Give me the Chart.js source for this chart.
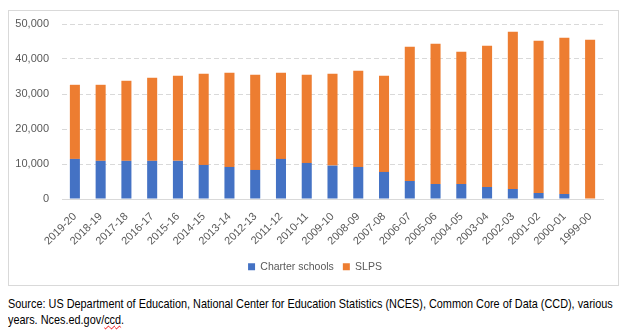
<!DOCTYPE html>
<html>
<head>
<meta charset="utf-8">
<script src="https://cdn.jsdelivr.net/npm/chart.js@4/dist/chart.umd.min.js"></script>
<style>
  html, body { margin: 0; padding: 0; background: #fff; }
  #page { position: relative; width: 640px; height: 335px; overflow: hidden; }
  #frame { position: absolute; left: 8px; top: 10px; width: 611px; height: 276px;
           border: 1px solid #d9d9d9; box-sizing: border-box; }
  #wrap { position: absolute; left: 9px; top: 11px; width: 609px; height: 274px; }
  #source { position: absolute; left: 8px; top: 296px; white-space: nowrap;
            font-family: "Liberation Sans", sans-serif;
            font-size: 13.5px; line-height: 16px; color: #000;
            transform: scaleX(0.806); transform-origin: 0 0; }
  .sp { text-decoration: underline wavy #e00; text-decoration-thickness: 1px; }
</style>
</head>
<body>
<div id="page">
  <div id="frame"></div>
  <div id="wrap"><canvas id="chart"></canvas></div>
  <div id="source">Source: US Department of Education, National Center for Education Statistics (NCES), Common Core of Data (CCD), various<br>years. Nces.ed.gov/<span class="sp">ccd</span>.</div>
</div>
<script>
const years = ["2019-20", "2018-19", "2017-18", "2016-17", "2015-16", "2014-15", "2013-14",
  "2012-13", "2011-12", "2010-11", "2009-10", "2008-09", "2007-08", "2006-07", "2005-06",
  "2004-05", "2003-04", "2002-03", "2001-02", "2000-01", "1999-00"];
const charterSchools = [11450, 10900, 10900, 10900, 10900, 9730, 9160, 8300, 11450, 10300,
  9540, 9160, 7730, 5150, 4290, 4290, 3435, 2860, 1720, 1430, 0];
const slps = [21180, 21730, 22880, 23740, 24310, 26050, 26910, 27200, 24620, 25200,
  26240, 27480, 27480, 38360, 40080, 37790, 40365, 44940, 43510, 44660, 45520];

const font = { family: "'Liberation Sans', sans-serif", size: 11 };
const grey = "#595959";

// legend sits a little right of the canvas centre in the original
const legendShift = {
  id: 'legendShift',
  afterLayout(chart) {
    chart.legend.left += 9;
    chart.legend.right += 9;
  }
};

new Chart(document.getElementById("chart"), {
  type: 'bar',
  data: {
    labels: years,
    datasets: [
      { label: "Charter schools", backgroundColor: "#4472C4", data: charterSchools },
      { label: "SLPS", backgroundColor: "#ED7D31", data: slps }
    ]
  },
  options: {
    responsive: true,
    maintainAspectRatio: false,
    animation: false,
    datasets: { bar: { barPercentage: 0.39, categoryPercentage: 1 } },
    layout: { padding: { top: 13, right: 15, bottom: 3, left: 0 } },
    plugins: {
      legend: {
        position: 'bottom',
        labels: { boxWidth: 7, boxHeight: 7, color: grey, font: { family: font.family, size: 10.5 }, padding: 9 }
      },
      tooltip: { enabled: false }
    },
    scales: {
      x: {
        stacked: true,
        grid: { display: false },
        border: { display: true, color: "#d9d9d9" },
        ticks: { color: grey, font: font, minRotation: 45, maxRotation: 45, autoSkip: false },
        afterFit: s => { s.height = 53.5; s.paddingLeft = 0; s.paddingRight = 0; }
      },
      y: {
        stacked: true,
        min: 0,
        max: 50000,
        grid: { color: "#d9d9d9", drawTicks: false },
        border: { display: false, dash: [5, 3] },
        ticks: {
          stepSize: 10000, color: grey, font: font, padding: 13,
          callback: v => v.toLocaleString('en-US')
        },
        afterFit: s => { s.width = 53; s.paddingTop = 0; s.paddingBottom = 0; }
      }
    }
  },
  plugins: [legendShift]
});
</script>
</body>
</html>
